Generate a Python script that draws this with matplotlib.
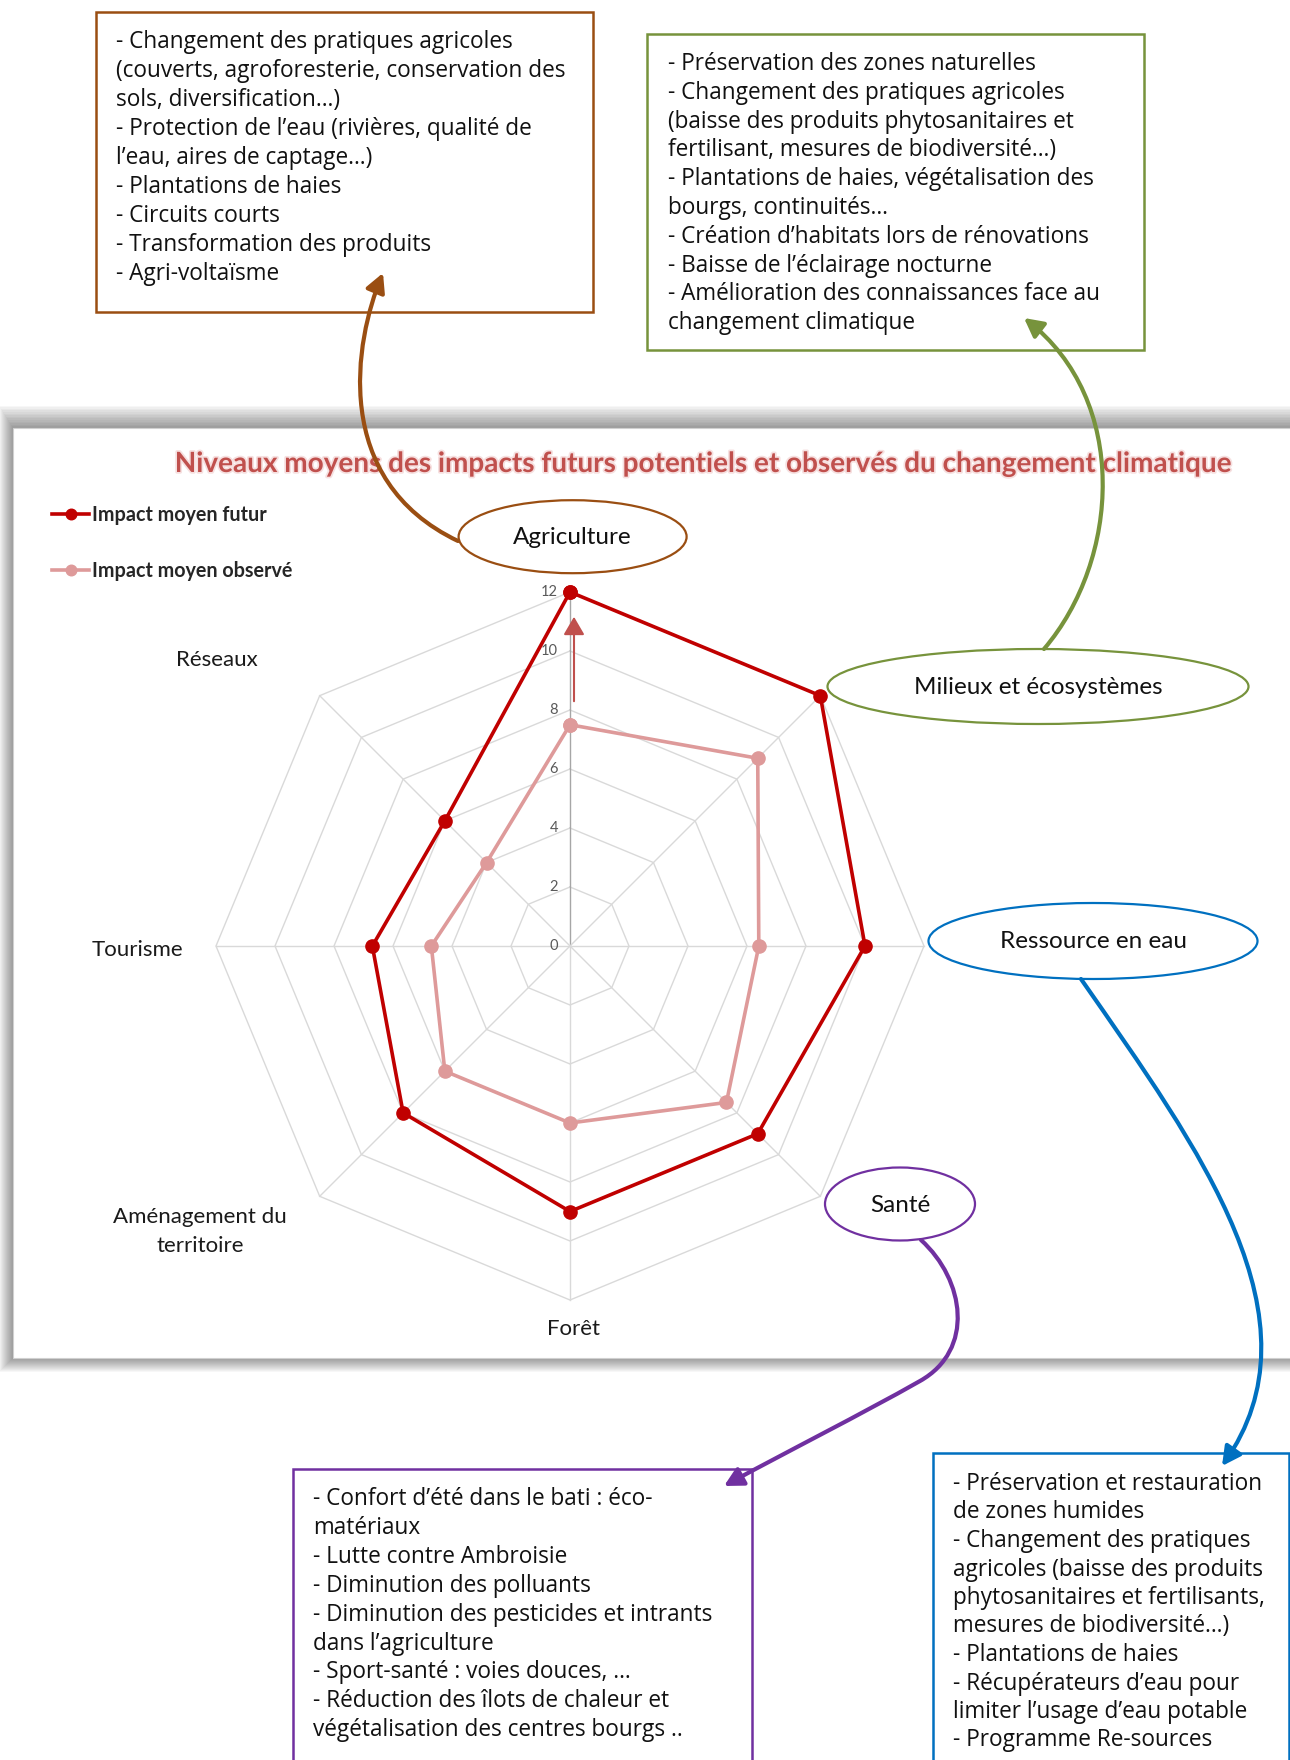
import numpy as np
import matplotlib
matplotlib.use("Agg")
import matplotlib.pyplot as plt
from matplotlib.patches import Rectangle, Ellipse, FancyArrowPatch
from matplotlib.path import Path
from matplotlib.transforms import ScaledTranslation
import matplotlib.patheffects as pe

# ---------------- data ----------------
categories = ["Agriculture", "Milieux et écosystèmes", "Ressource en eau", "Santé",
              "Forêt", "Aménagement du territoire", "Tourisme", "Réseaux"]
futur = [12, 12, 10, 9, 9, 8, 6.7, 6]
observe = [7.5, 9, 6.4, 7.5, 6, 6, 4.7, 4]
ticks = [0, 2, 4, 6, 8, 10, 12]
series_labels = ["Impact moyen futur", "Impact moyen observé"]
title = "Niveaux moyens des impacts futurs potentiels et observés du changement climatique"

box_agri = ["- Changement des pratiques agricoles",
            "(couverts, agroforesterie, conservation des",
            "sols, diversification…)",
            "- Protection de l’eau (rivières, qualité de",
            "l’eau, aires de captage…)",
            "- Plantations de haies",
            "- Circuits courts",
            "- Transformation des produits",
            "- Agri-voltaïsme"]
box_milieux = ["- Préservation des zones naturelles",
               "- Changement des pratiques agricoles",
               "(baisse des produits phytosanitaires et",
               "fertilisant, mesures de biodiversité…)",
               "- Plantations de haies, végétalisation des",
               "bourgs, continuités…",
               "- Création d’habitats lors de rénovations",
               "- Baisse de l’éclairage nocturne",
               "- Amélioration des connaissances face au",
               "changement climatique"]
box_sante = ["- Confort d’été dans le bati : éco-",
             "matériaux",
             "- Lutte contre Ambroisie",
             "- Diminution des polluants",
             "- Diminution des pesticides et intrants",
             "dans l’agriculture",
             "- Sport-santé : voies douces, …",
             "- Réduction des îlots de chaleur et",
             "végétalisation des centres bourgs .."]
box_eau = ["- Préservation et restauration",
           "de zones humides",
           "- Changement des pratiques",
           "agricoles (baisse des produits",
           "phytosanitaires et fertilisants,",
           "mesures de biodiversité…)",
           "- Plantations de haies",
           "- Récupérateurs d’eau pour",
           "limiter l’usage d’eau potable",
           "- Programme Re-sources"]

# ---------------- figure ----------------
W, H = 1290, 1760
fig = plt.figure(figsize=(W / 100, H / 100), dpi=100)
fig.patch.set_facecolor("white")

CHART_FONT = ["Lato", "DejaVu Sans"]
BOX_FONT = ["Open Sans", "DejaVu Sans"]

BROWN = "#9A4E12"
GREEN = "#77933C"
BLUE = "#0070C0"
PURPLE = "#7030A0"
RED = "#C00000"
PINK = "#DE9A9A"


def pixel_axes(z):
    a = fig.add_axes([0, 0, 1, 1], zorder=z)
    a.set_xlim(0, W)
    a.set_ylim(H, 0)
    a.axis("off")
    a.patch.set_visible(False)
    return a


bg = pixel_axes(0)

# chart panel with soft shadow
px0, py0, px1, py1 = 13, 428, 1300, 1358
for d in range(1, 15):
    bg.add_patch(Rectangle((px0 - d, py0 - 1.6 * d), (px1 - px0) + 2 * d,
                           (py1 - py0) + 1.6 * d + d, fc="black", ec="none",
                           alpha=0.03, zorder=0))
bg.add_patch(Rectangle((px0, py0), px1 - px0, py1 - py0, fc="white",
                       ec="#D0D0D0", lw=0.8, zorder=1))

bg.text(702, 464, title, ha="center", va="center", fontsize=20.1,
        fontweight="bold", color="#C0504D", family=CHART_FONT, zorder=3,
        path_effects=[pe.withStroke(linewidth=2.5, foreground="#F6E0E0")])

# category labels not covered by ellipses
lab_kw = dict(ha="center", va="center", fontsize=16, color="#1a1a1a",
              family=CHART_FONT, zorder=3)
bg.text(216.7, 660, categories[7], **lab_kw)
bg.text(137, 950, categories[6], **lab_kw)
bg.text(200, 1217, "Aménagement du", **lab_kw)
bg.text(200, 1246, "territoire", **lab_kw)
bg.text(573.7, 1329, categories[4], **lab_kw)

# ---------------- radar ----------------
cx, cy, R = 570, 946, 354
pax = fig.add_axes([(cx - R) / W, (H - cy - R) / H, 2 * R / W, 2 * R / H],
                   projection="polar", zorder=1)
pax.set_theta_zero_location("N")
pax.set_theta_direction(-1)
pax.set_ylim(0, ticks[-1])
pax.set_xticks([])
pax.set_yticks([])
pax.grid(False)
pax.spines["polar"].set_visible(False)
pax.patch.set_visible(False)

N = len(categories)
angles = np.arange(N) * 2 * np.pi / N
closed = np.append(angles, angles[0])
for r in ticks[1:]:
    pax.plot(closed, [r] * (N + 1), color="#D9D9D9", lw=1.0, clip_on=False, zorder=1)
for i, a in enumerate(angles):
    pax.plot([a, a], [0, ticks[-1]], color="#A6A6A6" if i == 0 else "#D9D9D9",
             lw=1.0, clip_on=False, zorder=1)

off = ScaledTranslation(-0.12, 0, fig.dpi_scale_trans)
for r in ticks:
    pax.text(0, r, str(r), transform=pax.transData + off, ha="right", va="center",
             fontsize=10.5, color="#595959", family=CHART_FONT)

l_obs, = pax.plot(closed, np.append(observe, observe[0]), color=PINK, lw=2.6,
                  marker="o", ms=9.5, clip_on=False, zorder=3)
l_fut, = pax.plot(closed, np.append(futur, futur[0]), color=RED, lw=2.6,
                  marker="o", ms=9.5, clip_on=False, zorder=4)

leg = fig.legend(handles=[l_fut, l_obs], labels=series_labels, loc="upper left",
                 bbox_to_anchor=(52 / W, 1 - 505 / H), frameon=False,
                 prop=dict(family=CHART_FONT, weight="bold", size=14.2),
                 handlelength=1.9, handletextpad=0.15, labelspacing=1.82,
                 borderpad=0, borderaxespad=0, markerscale=0.8)
for t in leg.get_texts():
    t.set_color("#262626")

# ---------------- overlay: ellipses, boxes, arrows ----------------
fg = pixel_axes(5)

# small red arrow on Agriculture axis
fg.add_patch(FancyArrowPatch((574, 704), (574, 614),
                             arrowstyle="-|>,head_length=0.55,head_width=0.32",
                             mutation_scale=20, color="#C0504D", lw=1.5, zorder=2))

ellipses = [((572.6, 536.7), 228, 73, BROWN, categories[0]),
            ((1038, 686.5), 421, 75, GREEN, categories[1]),
            ((1093, 941), 329, 76, BLUE, categories[2]),
            ((900, 1204), 150, 73, PURPLE, categories[3])]
for (ex, ey), ew, eh, col, txt in ellipses:
    fg.add_patch(Ellipse((ex, ey), ew, eh, fc="white", ec=col, lw=1.6, zorder=3))
    fg.text(ex, ey + 1, txt, ha="center", va="center", fontsize=17.5,
            color="#111111", family=CHART_FONT, zorder=4)

boxes = [((95.5, 12.5), 497.5, 300, BROWN, box_agri, 115.6, 48.5, 28.9),
         ((646.6, 34), 497.5, 316, GREEN, box_milieux, 668, 70, 28.8),
         ((292.7, 1469), 459, 330, PURPLE, box_sante, 313, 1505, 28.9),
         ((933.3, 1453.3), 355.7, 330, BLUE, box_eau, 953, 1490, 28.5)]
for (bx, by), bw, bh, col, lines, tx, ty, dy in boxes:
    fg.add_patch(Rectangle((bx, by), bw, bh, fc="white", ec=col, lw=1.8, zorder=3))
    for i, line in enumerate(lines):
        fg.text(tx, ty + i * dy, line, ha="left", va="baseline", fontsize=16.3,
                color="#111111", family=BOX_FONT, zorder=4)

C4 = Path.CURVE4
arrows = [
    (BROWN, [(458, 541), (330, 480), (355, 340), (383, 273)], [Path.MOVETO, C4, C4, C4]),
    (GREEN, [(1044, 649), (1120, 560), (1130, 400), (1024, 318)], [Path.MOVETO, C4, C4, C4]),
    (BLUE, [(1081, 979), (1200, 1150), (1325, 1320), (1222, 1466)], [Path.MOVETO, C4, C4, C4]),
    (PURPLE, [(921, 1240), (965, 1280), (975, 1350), (920, 1381), (860, 1415),
              (790, 1450), (724, 1486)], [Path.MOVETO, C4, C4, C4, C4, C4, C4]),
]
for col, verts, codes in arrows:
    fg.add_patch(FancyArrowPatch(path=Path(verts, codes),
                                 arrowstyle="-|>,head_length=0.8,head_width=0.42",
                                 mutation_scale=14, color=col, lw=3.0, zorder=6,
                                 clip_on=False))

fig.savefig("out.png", dpi=100, facecolor="white")
